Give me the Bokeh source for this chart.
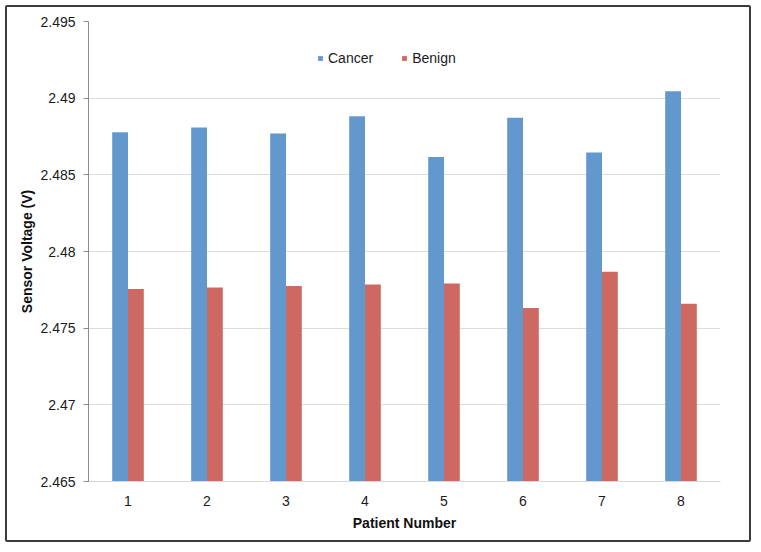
from bokeh.plotting import figure
from bokeh.models import Range1d, FixedTicker, Legend, LegendItem, ColumnDataSource
from bokeh.embed import file_html
from bokeh.resources import INLINE

patients = [1, 2, 3, 4, 5, 6, 7, 8]
cancer = [2.48778, 2.48808, 2.48769, 2.48882, 2.48617, 2.48873, 2.48645, 2.49045]
benign = [2.47755, 2.47766, 2.47775, 2.47784, 2.47792, 2.47631, 2.47868, 2.47660]
y_ticks = [2.465, 2.47, 2.475, 2.48, 2.485, 2.49, 2.495]
y_tick_labels = ["2.465", "2.47", "2.475", "2.48", "2.485", "2.49", "2.495"]
x_labels = ["1", "2", "3", "4", "5", "6", "7", "8"]

FONT = "Liberation Sans"
BLUE = "#6398CE"
RED = "#CE6862"

W, H = 746, 537  # canvas size; 2px CSS border is drawn outside

p = figure(width=W, height=H, output_backend="svg", toolbar_location=None,
           x_range=Range1d(0.5, 8.5), y_range=Range1d(2.465, 2.495),
           min_border_left=81, min_border_right=33, min_border_top=14, min_border_bottom=63)
p.styles = {"border": "2px solid #3b3b3b", "border-radius": "2px", "margin": "5px 0 0 5px"}
p.outline_line_color = None
p.background_fill_color = "white"
p.border_fill_color = "white"

src = ColumnDataSource(dict(
    xc=[x - 0.1 for x in patients], xb=[x + 0.1 for x in patients],
    cancer=cancer, benign=benign))
bottom = p.y_range.start
r1 = p.vbar(x="xc", top="cancer", bottom=bottom, width=0.2, source=src,
            fill_color=BLUE, line_color=None)
r2 = p.vbar(x="xb", top="benign", bottom=bottom, width=0.2, source=src,
            fill_color=RED, line_color=None)

# Axes
p.xaxis.ticker = FixedTicker(ticks=patients)
p.xaxis.major_label_overrides = {p_: l for p_, l in zip(patients, x_labels)}
p.xaxis.major_tick_line_color = None
p.xaxis.minor_tick_line_color = None
p.xaxis.axis_line_color = "#d9d9d9"
p.xaxis.major_label_standoff = 8
p.xaxis.axis_label = "Patient Number"
p.xaxis.axis_label_standoff = 6

p.yaxis.ticker = FixedTicker(ticks=y_ticks)
p.yaxis.major_label_overrides = {t: l for t, l in zip(y_ticks, y_tick_labels)}
p.yaxis.minor_tick_line_color = None
p.yaxis.axis_line_color = "#8c8c8c"
p.yaxis.major_tick_line_color = "#8c8c8c"
p.yaxis.major_tick_out = 5
p.yaxis.major_tick_in = 0
p.yaxis.major_label_standoff = 8
p.yaxis.axis_label = "Sensor Voltage (V)"
p.yaxis.axis_label_standoff = 2

for ax in (p.xaxis, p.yaxis):
    ax.major_label_text_font = FONT
    ax.major_label_text_font_size = "14px"
    ax.major_label_text_color = "#1a1a1a"
    ax.axis_label_text_font = FONT
    ax.axis_label_text_font_size = "14px"
    ax.axis_label_text_font_style = "bold"
    ax.axis_label_text_color = "#111111"

p.xgrid.grid_line_color = None
p.ygrid.grid_line_color = "#dcdcdc"
p.ygrid.ticker = FixedTicker(ticks=y_ticks)

legend = Legend(items=[LegendItem(label="Cancer", renderers=[r1]),
                       LegendItem(label="Benign", renderers=[r2])],
                orientation="horizontal", location=(229, 415),
                glyph_width=6, glyph_height=6, label_text_font=FONT,
                label_text_font_size="14px", label_text_color="#1a1a1a",
                label_standoff=5, spacing=28, padding=0, margin=0,
                border_line_color=None, background_fill_alpha=0)
p.add_layout(legend, "center")

open("out.html", "w").write(file_html(p, INLINE))
